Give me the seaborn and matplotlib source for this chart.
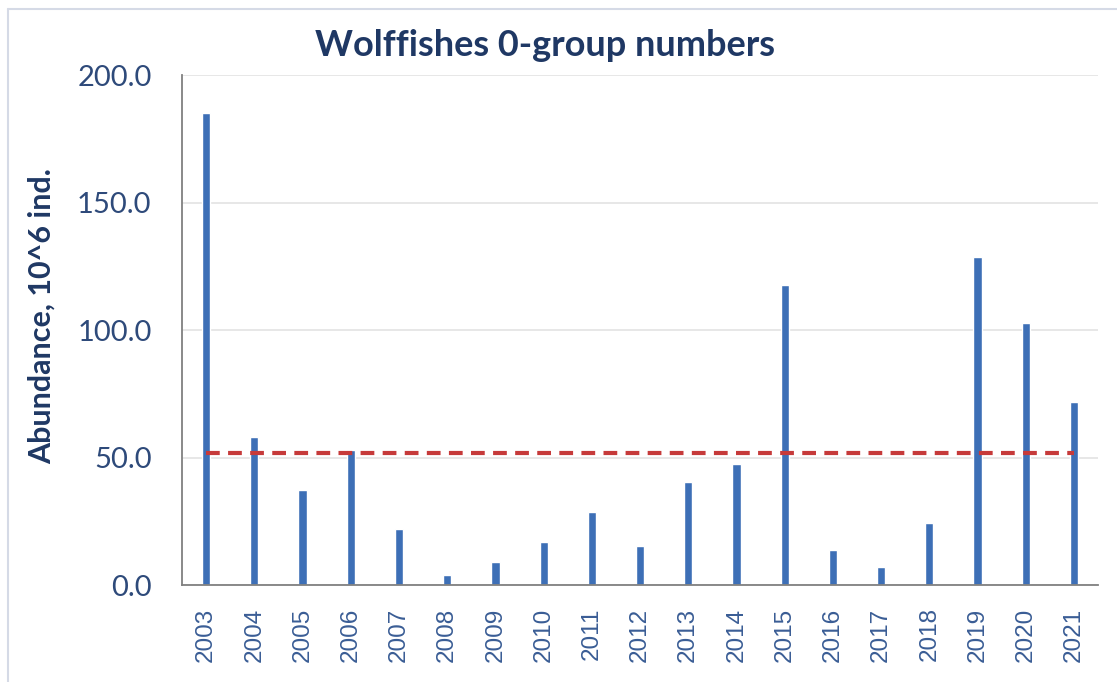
import matplotlib
matplotlib.use("Agg")
import matplotlib.pyplot as plt
import numpy as np
import seaborn as sns
from matplotlib.lines import Line2D
from matplotlib.ticker import FixedLocator, FuncFormatter

# values (10^6 individuals)
years = [str(y) for y in range(2003, 2022)]
abundance = [185.0, 57.9, 37.3, 52.9, 22.1, 3.9, 9.2, 16.9, 28.8, 15.3,
             40.3, 47.4, 117.6, 13.6, 7.2, 24.4, 128.5, 102.6, 71.8]
y_ticks = [0, 50, 100, 150, 200]

BAR_COLOR = "#3D6FB6"
MEAN_COLOR = "#C63A3A"
NAVY = "#1F3864"
TICK_BLUE = "#2E4A7A"
XLAB_BLUE = "#3A5D95"

sns.set_style("white")
plt.rcParams["font.family"] = ["Lato", "DejaVu Sans"]

fig = plt.figure(figsize=(11.17, 6.82), dpi=100)
ax = fig.add_axes([0.163, 0.142, 0.82, 0.748])

sns.barplot(x=years, y=abundance, color=BAR_COLOR, width=0.17,
            saturation=1, ax=ax)

mean_level = float(np.mean(abundance))
ax.hlines(mean_level, 0, len(years) - 1, color=MEAN_COLOR, lw=3,
          linestyles=(0, (3.3, 2.0)), zorder=4)

ax.set_ylim(0, 200)
ax.set_xlim(-0.5, len(years) - 0.5)
ax.yaxis.set_major_locator(FixedLocator(y_ticks))
ax.yaxis.set_major_formatter(FuncFormatter(lambda v, p: f"{v:.1f}"))
ax.grid(axis="y", color="#E3E3E3", lw=1.2)
ax.set_axisbelow(True)

for side in ["top", "right"]:
    ax.spines[side].set_visible(False)
for side in ["left", "bottom"]:
    ax.spines[side].set_color("#808080")
    ax.spines[side].set_linewidth(1.3)

ax.tick_params(axis="y", direction="out", length=6, width=1.2,
               color="#808080", labelsize=21, labelcolor=TICK_BLUE, pad=16)
ax.tick_params(axis="x", which="major", length=0, labelsize=17.5,
               labelcolor=XLAB_BLUE, rotation=90, pad=16)
ax.xaxis.set_minor_locator(FixedLocator(np.arange(-0.5, len(years), 1.0)))
ax.tick_params(axis="x", which="minor", direction="out", length=7,
               width=1.2, color="#808080")
for lab in ax.get_xticklabels():
    lab.set_fontfamily(["Liberation Sans", "DejaVu Sans"])

ax.set_xlabel("")
ax.set_ylabel("Abundance, 10^6 ind.", fontsize=22, fontweight="bold",
              color=NAVY)
ax.yaxis.set_label_coords(-0.1376, 0.527)
fig.text(0.488, 0.934, "Wolffishes 0-group numbers", fontsize=26,
         fontweight="bold", color=NAVY, ha="center", va="center")

# faint frame around the chart area, as in the source image
fig.add_artist(Line2D([0.007, 1.0], [0.987, 0.987], color="#D5DAE6",
                      lw=1.5, transform=fig.transFigure))
fig.add_artist(Line2D([0.007, 0.007], [0.0, 0.987], color="#D5DAE6",
                      lw=1.5, transform=fig.transFigure))

fig.savefig("out.png", dpi=100, facecolor="white")
